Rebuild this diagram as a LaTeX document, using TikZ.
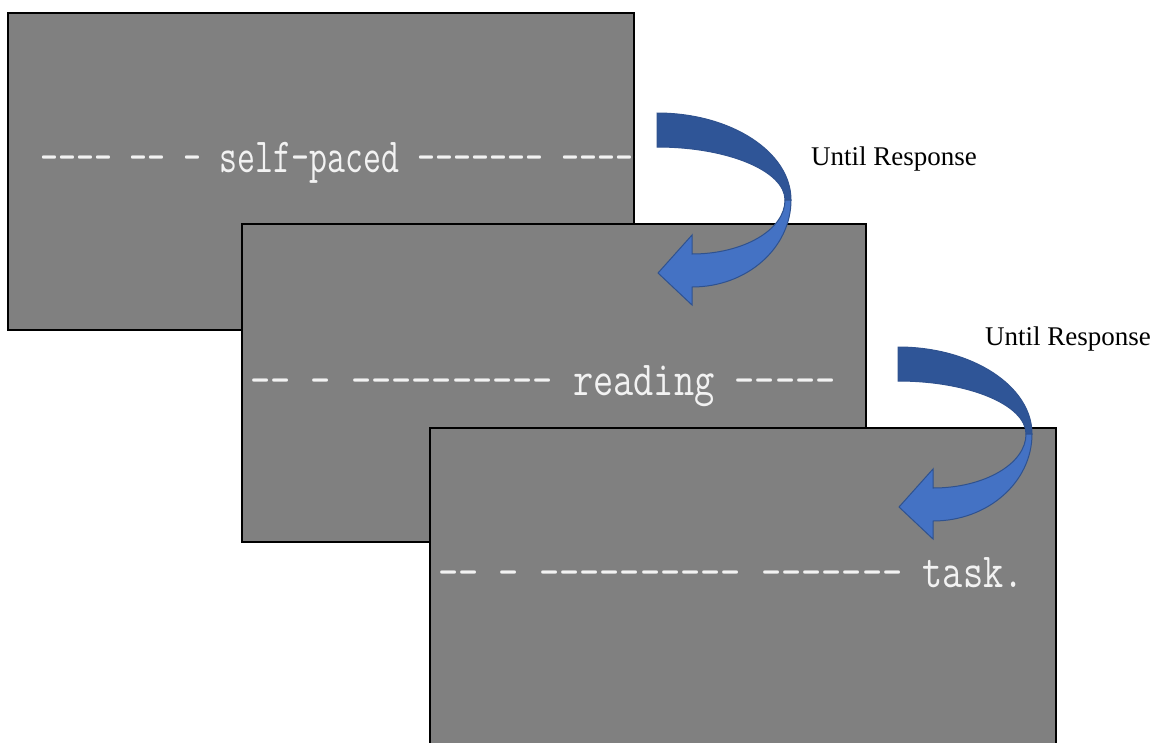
\documentclass[tikz,border=0pt]{standalone}
\usepackage{fontspec}
\setmainfont{Liberation Serif}
\usepackage{tikz}
\usetikzlibrary{positioning}
\definecolor{scrgrey}{HTML}{808080}
\definecolor{scrtext}{HTML}{F2F2F2}
\definecolor{arrdark}{HTML}{2F5597}
\definecolor{arrlight}{HTML}{4472C4}
\definecolor{arredge}{HTML}{2F528F}
\tikzset{
	screen/.style={draw=black, line width=2pt, fill=scrgrey, anchor=north west, minimum width=626, minimum height=317, inner sep=0pt, outer sep=0pt},
	words/.style={text=scrtext, anchor=base west, inner sep=0pt, font=\ttfamily\fontsize{49}{49}\selectfont, xscale=0.80},
	cue/.style={anchor=base west, inner sep=0pt, font=\fontsize{27}{27}\selectfont},
	pics/turnarrow/.style={code={
		\draw[arredge, line width=1pt, fill=arrdark] (0,0) .. controls (74,0) and (134,39) .. (134,87) -- (128,87) .. controls (128,58) and (71,34) .. (0,34) -- cycle;
		\draw[arredge, line width=1pt, fill=arrlight] (134,87) .. controls (134,135) and (90,174) .. (35,174) -- (35,192) -- (1,160) -- (35,122) -- (35,141) .. controls (86,141) and (128,117) .. (128,87) -- cycle;
	}}
}
\begin{document}
\begin{tikzpicture}[x=1pt, y=-1pt]
		\clip (0,0) rectangle (1167,742);
		\node[screen] (scrA) at (8,13) {};
		\begin{scope}
			\clip (scrA.north west) rectangle (scrA.south east);
			\node[words, xscale=0.89] (lineA) at (40,172) {---- -- - self-paced ------- -----};
		\end{scope}
		\node[screen, minimum width=624, minimum height=318] (scrB) at (242,224) {};
		\node[words] (lineB) at (250,395) {-- - ---------- reading -----};
		\pic at (657,113) {turnarrow};
		\node[screen, minimum height=330] (scrC) at (430,428) {};
		\node[words] (lineC) at (438,587) {-- - ---------- ------- task.};
		\pic at (898,347) {turnarrow};
		\node[cue] (cueA) at (811,165) {Until Response};
		\node[cue] (cueB) at (985,345) {Until Response};
\end{tikzpicture}
\end{document}
